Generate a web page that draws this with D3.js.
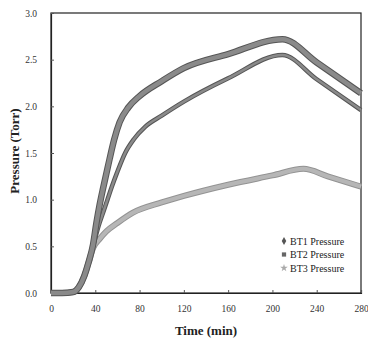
<!DOCTYPE html>
<html>
<head>
<meta charset="utf-8">
<script src="https://cdn.jsdelivr.net/npm/d3@7"></script>
<style>
  body { margin: 0; background: #fff; }
  svg { display: block; }
  text { font-family: "Liberation Serif", "DejaVu Serif", serif; }
</style>
</head>
<body>
<div id="chart"></div>
<script>
// time (min) and pressure (Torr)
const bt1Time = [0, 10, 20, 25, 30, 34, 38, 43, 47, 51, 55, 60, 67, 75, 85, 100, 120, 160, 209, 240, 280];
const bt1Pres = [0, 0, 0.01, 0.06, 0.18, 0.33, 0.5, 0.72, 0.86, 1.0, 1.14, 1.3, 1.5, 1.65, 1.78, 1.9, 2.05, 2.3, 2.55, 2.29, 1.96];

const bt2Time = [0, 10, 20, 25, 30, 34, 38, 41, 44, 47, 50, 53, 57, 62, 70, 80, 100, 120, 160, 209, 240, 280];
const bt2Pres = [0, 0, 0.01, 0.06, 0.18, 0.33, 0.52, 0.75, 0.95, 1.12, 1.28, 1.44, 1.64, 1.83, 1.99, 2.11, 2.27, 2.41, 2.56, 2.72, 2.47, 2.14];

const bt3Time = [0, 10, 20, 25, 30, 34, 38, 44, 50, 60, 74, 100, 120, 160, 200, 228, 250, 280];
const bt3Pres = [0, 0, 0.01, 0.06, 0.18, 0.33, 0.48, 0.58, 0.66, 0.75, 0.86, 0.97, 1.04, 1.16, 1.26, 1.33, 1.25, 1.14];

const seriesNames = ['BT1 Pressure', 'BT2 Pressure', 'BT3 Pressure'];
const xTicks = [0, 40, 80, 120, 160, 200, 240, 280];
const yTicks = [0, 0.5, 1.0, 1.5, 2.0, 2.5, 3.0];

const width = 368, height = 340;
const margin = { top: 13, right: 7, bottom: 47, left: 51 };
const serif = '"Liberation Serif", "DejaVu Serif", serif';

const svg = d3.select('#chart').append('svg')
  .attr('width', width)
  .attr('height', height);

const x = d3.scaleLinear().domain([0, 280]).range([margin.left, width - margin.right]);
const y = d3.scaleLinear().domain([0, 3]).range([height - margin.bottom, margin.top]);

// frame
svg.append('rect')
  .attr('x', x(0)).attr('y', y(3))
  .attr('width', x(280) - x(0)).attr('height', y(0) - y(3))
  .attr('fill', 'none').attr('stroke', '#222').attr('stroke-width', 1.2);

// axes
const xAxis = svg.append('g')
  .attr('transform', `translate(0,${y(0)})`)
  .call(d3.axisBottom(x).tickValues(xTicks).tickSize(-3).tickPadding(12).tickFormat(d3.format('d')));
const yAxis = svg.append('g')
  .attr('transform', `translate(${x(0)},0)`)
  .call(d3.axisLeft(y).tickValues(yTicks).tickSize(-3).tickPadding(14).tickFormat(d3.format('.1f')));

[xAxis, yAxis].forEach(g => {
  g.attr('font-family', serif);
  g.select('.domain').attr('stroke', '#222').attr('stroke-width', 1.2);
  g.selectAll('.tick line').attr('stroke', '#555');
  g.selectAll('.tick text')
    .attr('font-family', serif)
    .attr('font-size', '9.5px')
    .attr('fill', '#333');
});

// axis titles
svg.append('text')
  .attr('x', 206).attr('y', 335)
  .attr('text-anchor', 'middle')
  .attr('font-family', serif)
  .attr('font-size', '13px').attr('font-weight', 'bold')
  .attr('fill', '#222')
  .text('Time (min)');

svg.append('text')
  .attr('transform', 'translate(19,151) rotate(-90)')
  .attr('text-anchor', 'middle')
  .attr('font-family', serif)
  .attr('font-size', '13px').attr('font-weight', 'bold')
  .attr('fill', '#222')
  .text('Pressure (Torr)');

// curves
const line = d3.line()
  .x(d => x(d[0]))
  .y(d => y(d[1]))
  .curve(d3.curveMonotoneX);

const series = [
  { pts: d3.zip(bt3Time, bt3Pres), edge: '#939393', fill: '#b6b6b6', w: 6 },
  { pts: d3.zip(bt1Time, bt1Pres), edge: '#555', fill: '#8a8a8a', w: 4.5 },
  { pts: d3.zip(bt2Time, bt2Pres), edge: '#555', fill: '#8a8a8a', w: 6.5 }
];

series.forEach(s => {
  svg.append('path')
    .datum(s.pts)
    .attr('fill', 'none')
    .attr('stroke', s.edge)
    .attr('stroke-width', s.w)
    .attr('stroke-linejoin', 'round')
    .attr('d', line);
  svg.append('path')
    .datum(s.pts)
    .attr('fill', 'none')
    .attr('stroke', s.fill)
    .attr('stroke-width', s.w - 2)
    .attr('stroke-linejoin', 'round')
    .attr('d', line);
});

// legend
const legendSymbols = [d3.symbolDiamond, d3.symbolSquare, d3.symbolStar];
const legendColors = ['#555', '#666', '#aaa'];
const legend = svg.append('g');
seriesNames.forEach((name, i) => {
  const ly = 241 + i * 13.5;
  legend.append('path')
    .attr('transform', `translate(284,${ly})`)
    .attr('d', d3.symbol().type(legendSymbols[i]).size(18)())
    .attr('fill', legendColors[i]);
  legend.append('text')
    .attr('x', 290).attr('y', ly)
    .attr('dy', '0.35em')
    .attr('font-family', serif)
    .attr('font-size', '10px')
    .attr('fill', '#222')
    .text(name);
});
</script>
</body>
</html>
